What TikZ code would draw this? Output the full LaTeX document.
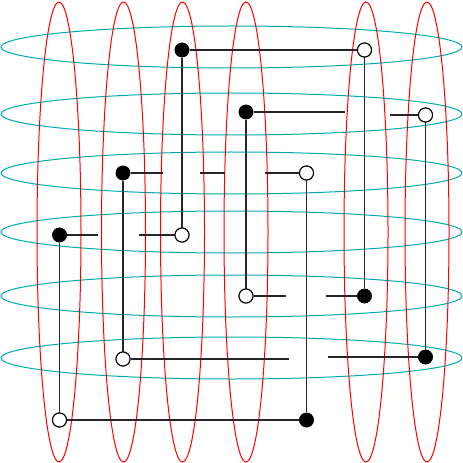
\documentclass[tikz,border=0pt]{standalone}
\definecolor{ringcyan}{RGB}{0,170,170}
\begin{document}
\begin{tikzpicture}[x=0.75pt,y=-0.75pt,
  redring/.style={draw=red, line width=0.75pt},
  cyanring/.style={draw=ringcyan, line width=0.75pt},
  wire/.style={draw=black!85, line width=0.95pt},
  xdot/.style={circle, fill=black, inner sep=0pt, minimum size=11pt},
  odot/.style={circle, draw=black, fill=white, line width=0.75pt, inner sep=0pt, minimum size=10.5pt}]
\useasboundingbox (0,0) rectangle (463,463);
% cyan horizontal rings
\foreach \y in {47,114,173,232,296,358}
  \draw[cyanring] (231.5,\y) ellipse [x radius=230.5, y radius=21];
% red vertical rings
\foreach \x in {59,123.5,182.5,246,366,427}
  \draw[redring] (\x,232) ellipse [x radius=22, y radius=230];
% dots
\node[xdot] (a1) at (182,50) {};
\node[odot] (a2) at (364.5,50) {};
\node[xdot] (b1) at (246,112) {};
\node[odot] (b2) at (425.5,115) {};
\node[xdot] (c1) at (123,173) {};
\node[odot] (c2) at (306.5,173) {};
\node[xdot] (d1) at (59.5,235) {};
\node[odot] (d2) at (182,235) {};
\node[odot] (e1) at (246,296) {};
\node[xdot] (e2) at (364.5,296) {};
\node[odot] (f1) at (123,359) {};
\node[xdot] (f2) at (425.5,357) {};
\node[odot] (g1) at (59.5,420) {};
\node[xdot] (g2) at (306.5,420) {};
% crossing break points
\coordinate (b1e) at (345,112);
\coordinate (b2s) at (390,115);
\coordinate (c1e) at (163,173);
\coordinate (c2s) at (200,173);
\coordinate (c2e) at (225,173);
\coordinate (c3s) at (265,173);
\coordinate (d1e) at (98,235);
\coordinate (d2s) at (139,235);
\coordinate (e1e) at (286,296);
\coordinate (e2s) at (326,296);
\coordinate (f1e) at (289,359);
\coordinate (f2s) at (328,357);
% vertical wires
\draw[wire] (a1) -- (d2);
\draw[wire] (a2) -- (e2);
\draw[wire] (b1) -- (e1);
\draw[wire] (b2) -- (f2);
\draw[wire] (c1) -- (f1);
\draw[wire] (c2) -- (g2);
\draw[wire] (d1) -- (g1);
% horizontal wires (broken where they pass under)
\draw[wire] (a1) -- (a2);
\draw[wire] (b1) -- (b1e);
\draw[wire] (b2s) -- (b2);
\draw[wire] (c1) -- (c1e);
\draw[wire] (c2s) -- (c2e);
\draw[wire] (c3s) -- (c2);
\draw[wire] (d1) -- (d1e);
\draw[wire] (d2s) -- (d2);
\draw[wire] (e1) -- (e1e);
\draw[wire] (e2s) -- (e2);
\draw[wire] (f1) -- (f1e);
\draw[wire] (f2s) -- (f2);
\draw[wire] (g1) -- (g2);
% redraw dots on top
\foreach \n in {a1,b1,c1,d1,e2,f2,g2}
  \node[xdot] at (\n) {};
\foreach \n in {a2,b2,c2,d2,e1,f1,g1}
  \node[odot] at (\n) {};
\end{tikzpicture}
\end{document}
